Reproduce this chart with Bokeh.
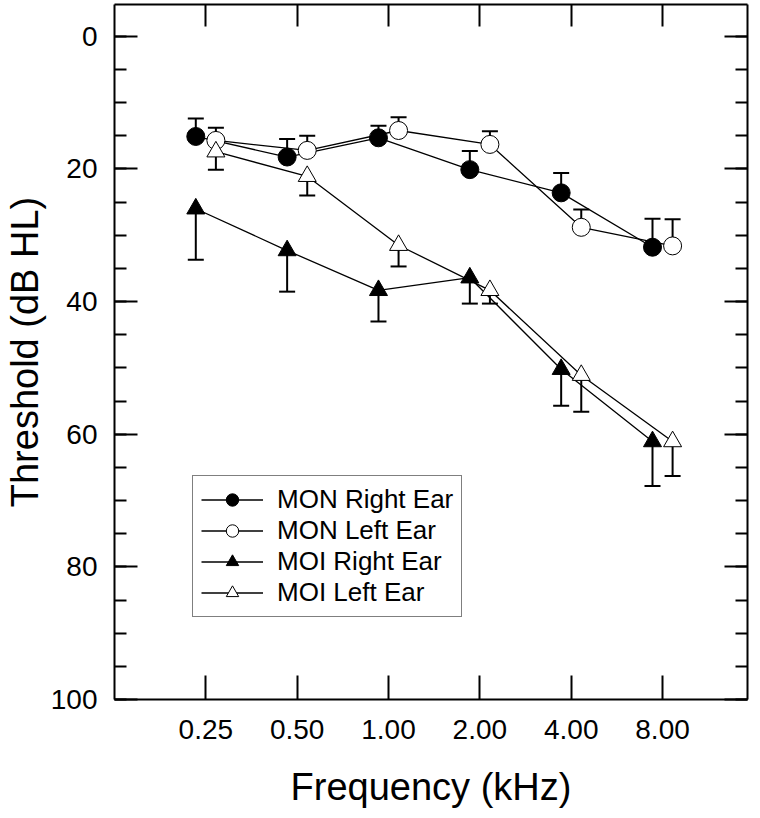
import numpy as np
from bokeh.plotting import figure
from bokeh.models import (Range1d, LinearAxis, FixedTicker, SingleIntervalTicker,
                          Whisker, TeeHead, ColumnDataSource, Legend, LegendItem,
                          CustomLabelingPolicy)
from bokeh.embed import file_html
from bokeh.resources import INLINE

# ---------------- data ----------------
freq_labels = ["0.25", "0.50", "1.00", "2.00", "4.00", "8.00"]
freq_khz = [0.25, 0.5, 1.0, 2.0, 4.0, 8.0]

mon_right = [15.1, 18.2, 15.3, 20.1, 23.6, 31.8]
mon_right_sd = [2.7, 2.7, 1.8, 2.8, 3.0, 4.3]
mon_left = [15.7, 17.2, 14.2, 16.3, 28.8, 31.6]
mon_left_sd = [1.9, 2.2, 2.0, 2.0, 2.7, 4.0]
moi_right = [26.0, 32.3, 38.3, 36.4, 50.2, 61.1]
moi_right_sd = [7.7, 6.2, 4.7, 3.9, 5.5, 6.7]
moi_left = [17.4, 21.1, 31.5, 38.3, 51.1, 61.1]
moi_left_sd = [2.7, 2.9, 3.2, 2.0, 5.5, 5.2]

series_names = ["MON Right Ear", "MON Left Ear", "MOI Right Ear", "MOI Left Ear"]

FONT = "Liberation Sans"

pos = np.log2(np.array(freq_khz) / freq_khz[0])

p = figure(width=752, height=810,
           x_range=Range1d(-1, 5.93), y_range=Range1d(100, -4.8),
           output_backend="svg", toolbar_location=None,
           min_border_left=113, min_border_right=2,
           min_border_top=4, min_border_bottom=111)
p.outline_line_color = None
p.xgrid.visible = False
p.ygrid.visible = False
p.background_fill_color = "white"
p.border_fill_color = "white"


def style_axis(ax, tin, minor_in=12):
    ax.axis_line_width = 2
    ax.axis_line_color = "black"
    ax.major_tick_line_width = 2
    ax.minor_tick_line_width = 2
    ax.major_tick_line_color = "black"
    ax.minor_tick_line_color = "black"
    ax.major_tick_in = tin
    ax.major_tick_out = 0
    ax.minor_tick_in = minor_in
    ax.minor_tick_out = 0


# bottom axis
xax = p.xaxis[0]
xax.ticker = FixedTicker(ticks=list(pos), minor_ticks=[])
xax.major_label_overrides = {float(v): lab for v, lab in zip(pos, freq_labels)}
style_axis(xax, 24)
xax.major_label_text_font = FONT
xax.major_label_text_font_size = "28px"
xax.major_label_text_color = "black"
xax.major_label_standoff = 20
xax.axis_label = "Frequency (kHz)"
xax.axis_label_text_font = FONT
xax.axis_label_text_font_size = "38px"
xax.axis_label_text_font_style = "normal"
xax.axis_label_text_color = "black"
xax.axis_label_standoff = 24

# left axis
yax = p.yaxis[0]
yax.ticker = SingleIntervalTicker(interval=20, num_minor_ticks=4)
style_axis(yax, 23)
yax.major_label_text_font = FONT
yax.major_label_text_font_size = "28px"
yax.major_label_text_color = "black"
yax.major_label_standoff = 17
yax.axis_label = "Threshold (dB HL)"
yax.axis_label_text_font = FONT
yax.axis_label_text_font_size = "38px"
yax.axis_label_text_font_style = "normal"
yax.axis_label_text_color = "black"
yax.axis_label_standoff = 2

# top axis (ticks only)
top = LinearAxis(ticker=FixedTicker(ticks=list(pos), minor_ticks=[]))
style_axis(top, 22)
top.major_label_text_font_size = "1px"
top.major_label_standoff = 0
top.major_label_policy = CustomLabelingPolicy(code="return []")
p.add_layout(top, "above")

# right axis (ticks only)
right = LinearAxis(ticker=SingleIntervalTicker(interval=20, num_minor_ticks=4))
style_axis(right, 23)
right.major_label_text_font_size = "1px"
right.major_label_standoff = 0
right.major_label_policy = CustomLabelingPolicy(code="return []")
p.add_layout(right, "right")

# ---------------- series ----------------
specs = [
    (mon_right, mon_right_sd, "circle", "black", -0.11, "up"),
    (mon_left, mon_left_sd, "circle", "white", 0.11, "up"),
    (moi_right, moi_right_sd, "triangle", "black", -0.11, "down"),
    (moi_left, moi_left_sd, "triangle", "white", 0.11, "down"),
]

legend_items = []
for name, (vals, sd, mk, fill, off, direction) in zip(series_names, specs):
    v = np.array(vals)
    s = np.array(sd)
    xs = pos + off
    src = ColumnDataSource(dict(x=xs, y=v))
    ln = p.line("x", "y", source=src, line_color="black", line_width=1.3)
    if direction == "up":
        wsrc = ColumnDataSource(dict(base=xs, lower=v - s, upper=v))
        w = Whisker(source=wsrc, base="base", lower="lower", upper="upper",
                    line_color="black", line_width=2,
                    lower_head=TeeHead(size=16, line_width=2, line_color="black"),
                    upper_head=None)
    else:
        wsrc = ColumnDataSource(dict(base=xs, lower=v, upper=v + s))
        w = Whisker(source=wsrc, base="base", lower="lower", upper="upper",
                    line_color="black", line_width=2,
                    upper_head=TeeHead(size=16, line_width=2, line_color="black"),
                    lower_head=None)
    p.add_layout(w)
    sc = p.scatter("x", "y", source=src, marker=mk, size=18,
                   fill_color=fill, line_color="black", line_width=1)
    legend_items.append(LegendItem(label=name, renderers=[ln, sc]))

legend = Legend(items=legend_items, location=(78, 82))
legend.padding = 8
legend.margin = 0
legend.spacing = 0
legend.glyph_height = 31
legend.label_height = 31
legend.glyph_width = 62
legend.label_standoff = 14
legend.label_text_font = FONT
legend.label_text_font_size = "26px"
legend.label_text_color = "black"
legend.border_line_color = "black"
legend.border_line_width = 1.5
legend.background_fill_color = "white"
legend.background_fill_alpha = 1.0
p.add_layout(legend)

open("out.html", "w").write(file_html(p, INLINE))
